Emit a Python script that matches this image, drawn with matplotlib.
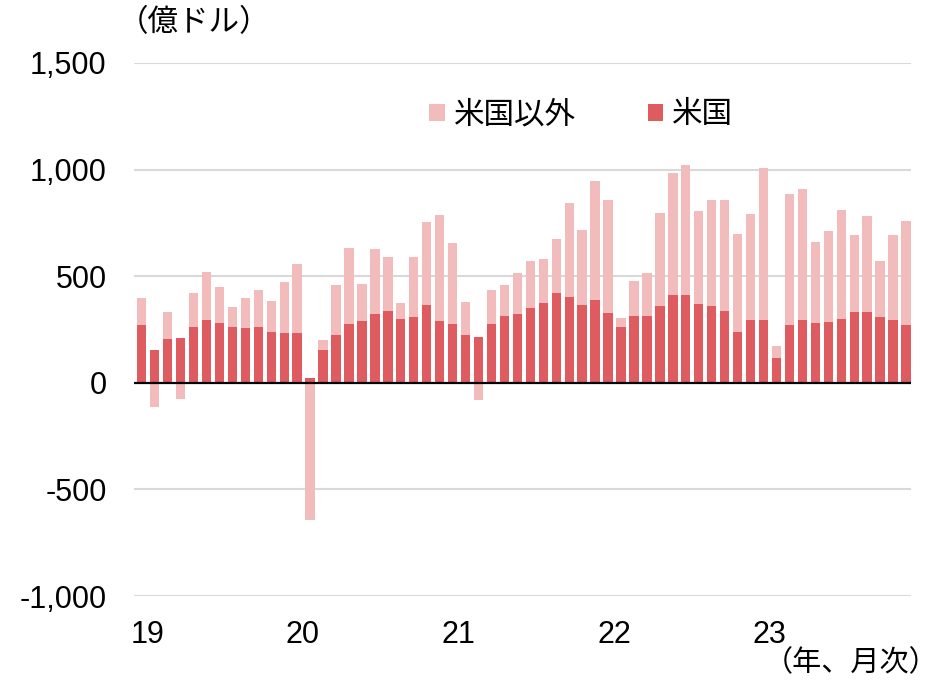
import numpy as np
import matplotlib
matplotlib.use('Agg')
import matplotlib.pyplot as plt

plt.rcParams['font.family'] = ['Liberation Sans', 'Noto Sans CJK JP']

# 月次データ（億ドル）、2019年1月～2023年12月
us = [271, 152, 204, 210, 263, 293, 279, 263, 255, 263, 240, 232,
      232, 24, 152, 224, 277, 291, 321, 336, 299, 307, 366, 291,
      277, 224, 216, 277, 313, 321, 351, 374, 419, 403, 366, 388,
      329, 262, 313, 313, 360, 414, 414, 368, 360, 338, 240, 293,
      293, 114, 271, 293, 279, 285, 301, 331, 331, 309, 293, 271]
non_us = [129, -113, 127, -74, 158, 226, 172, 91, 143, 173, 144, 241,
          324, -643, 50, 233, 357, 173, 306, 254, 75, 283, 388, 494,
          380, 156, -81, 158, 144, 195, 218, 209, 254, 441, 352, 560,
          529, 43, 165, 203, 437, 570, 607, 436, 497, 519, 459, 497,
          714, 58, 616, 617, 382, 429, 511, 360, 451, 263, 398, 487]
year_labels = ['19', '20', '21', '22', '23']
y_ticks = [-1000, -500, 0, 500, 1000, 1500]

c_us = '#DE5C5F'
c_other = '#F2BBBC'

us = np.array(us)
non_us = np.array(non_us)
x = np.arange(len(us))
# 負の値はゼロから下向きに積み上げ
bottom_other = np.where(non_us >= 0, us, 0)

fig = plt.figure(figsize=(9.4, 6.81), dpi=100)
ax = fig.add_axes([0.1429, 0.1248, 0.8266, 0.7827])

ax.bar(x, us, width=0.72, color=c_us, label='米国', zorder=3)
ax.bar(x, non_us, width=0.72, bottom=bottom_other, color=c_other,
       label='米国以外', zorder=3)

ax.set_xlim(-0.57, 59.41)
ax.set_ylim(-1000, 1500)
ax.set_yticks(y_ticks)
ax.set_yticklabels(['{:,}'.format(v) for v in y_ticks])
ax.set_xticks(np.arange(len(year_labels)) * 12 + 0.45)
ax.set_xticklabels(year_labels)
ax.tick_params(axis='y', length=0, pad=20, labelsize=22)
ax.tick_params(axis='x', length=0, pad=17, labelsize=22)

for v in y_ticks:
    if v != 0:
        ax.axhline(v, color='#D9D9D9', lw=1.5, zorder=1)
ax.axhline(0, color='black', lw=1.6, zorder=4)
for s in ax.spines.values():
    s.set_visible(False)

h, l = ax.get_legend_handles_labels()
ax.legend(h[::-1], l[::-1], ncol=2, frameon=False, loc='center',
          bbox_to_anchor=(0.575, 0.902), fontsize=22,
          handlelength=0.5, handleheight=0.5, handletextpad=0.3,
          columnspacing=2.35)

fig.text(0.1255, 0.988, '（億ドル）', fontsize=22, va='top', ha='left')
fig.text(0.998, 0.006, '（年、月次）', fontsize=21, va='bottom', ha='right')

fig.savefig('out.png', dpi=100)
